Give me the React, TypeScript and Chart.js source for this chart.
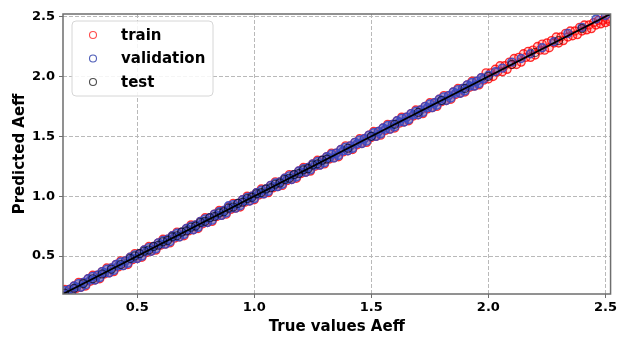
import React, { useEffect, useRef } from "react";
import { Chart, registerables } from "chart.js";

Chart.register(...registerables);

const AXIS_MIN = 0.183;
const AXIS_MAX = 2.522;
const TICKS = [0.5, 1.0, 1.5, 2.0, 2.5];
const X_TITLE = "True values Aeff";
const Y_TITLE = "Predicted Aeff";
const LEGEND_LABELS = ["train", "validation", "test"];

const trainX = [
  0.19, 0.20, 0.21, 0.22, 0.23, 0.24, 0.25, 0.26, 0.27, 0.28, 0.29, 0.30, 0.31, 0.32, 0.33, 0.34, 0.35, 0.36,
  0.37, 0.38, 0.39, 0.40, 0.41, 0.42, 0.43, 0.44, 0.45, 0.46, 0.47, 0.48, 0.49, 0.50, 0.51, 0.52, 0.53, 0.54,
  0.55, 0.56, 0.57, 0.58, 0.59, 0.60, 0.61, 0.62, 0.63, 0.64, 0.65, 0.66, 0.67, 0.68, 0.69, 0.70, 0.71, 0.72,
  0.73, 0.74, 0.75, 0.76, 0.77, 0.78, 0.79, 0.80, 0.81, 0.82, 0.83, 0.84, 0.85, 0.86, 0.87, 0.88, 0.89, 0.90,
  0.91, 0.92, 0.93, 0.94, 0.95, 0.96, 0.97, 0.98, 0.99, 1.00, 1.01, 1.02, 1.03, 1.04, 1.05, 1.06, 1.07, 1.08,
  1.09, 1.10, 1.11, 1.12, 1.13, 1.14, 1.15, 1.16, 1.17, 1.18, 1.19, 1.20, 1.21, 1.22, 1.23, 1.24, 1.25, 1.26,
  1.27, 1.28, 1.29, 1.30, 1.31, 1.32, 1.33, 1.34, 1.35, 1.36, 1.37, 1.38, 1.39, 1.40, 1.41, 1.42, 1.43, 1.44,
  1.45, 1.46, 1.47, 1.48, 1.49, 1.50, 1.51, 1.52, 1.53, 1.54, 1.55, 1.56, 1.57, 1.58, 1.59, 1.60, 1.61, 1.62,
  1.63, 1.64, 1.65, 1.66, 1.67, 1.68, 1.69, 1.70, 1.71, 1.72, 1.73, 1.74, 1.75, 1.76, 1.77, 1.78, 1.79, 1.80,
  1.81, 1.82, 1.83, 1.84, 1.85, 1.86, 1.87, 1.88, 1.89, 1.90, 1.91, 1.92, 1.93, 1.94, 1.95, 1.96, 1.97, 1.98,
  1.99, 2.00, 2.01, 2.02, 2.03, 2.04, 2.05, 2.06, 2.07, 2.08, 2.09, 2.10, 2.11, 2.12, 2.13, 2.14, 2.15, 2.16,
  2.17, 2.18, 2.19, 2.20, 2.21, 2.22, 2.23, 2.24, 2.25, 2.26, 2.27, 2.28, 2.29, 2.30, 2.31, 2.32, 2.33, 2.34,
  2.35, 2.36, 2.37, 2.38, 2.39, 2.40, 2.41, 2.42, 2.43, 2.44, 2.45, 2.46, 2.47, 2.48, 2.49, 2.50, 2.51, 2.52,
];
const trainY = [
  0.22, 0.18, 0.22, 0.19, 0.25, 0.23, 0.28, 0.24, 0.28, 0.25, 0.31, 0.29, 0.34, 0.30, 0.34, 0.31, 0.37, 0.35,
  0.40, 0.36, 0.40, 0.37, 0.43, 0.41, 0.46, 0.42, 0.46, 0.43, 0.49, 0.47, 0.52, 0.48, 0.52, 0.49, 0.55, 0.53,
  0.58, 0.54, 0.58, 0.55, 0.61, 0.59, 0.64, 0.60, 0.64, 0.61, 0.67, 0.65, 0.70, 0.66, 0.70, 0.67, 0.73, 0.71,
  0.76, 0.72, 0.76, 0.73, 0.79, 0.77, 0.82, 0.78, 0.82, 0.79, 0.85, 0.83, 0.88, 0.84, 0.88, 0.85, 0.91, 0.89,
  0.94, 0.90, 0.94, 0.91, 0.97, 0.95, 1.00, 0.96, 1.00, 0.97, 1.03, 1.01, 1.06, 1.02, 1.06, 1.03, 1.09, 1.07,
  1.12, 1.08, 1.12, 1.09, 1.15, 1.13, 1.18, 1.14, 1.18, 1.15, 1.21, 1.19, 1.24, 1.20, 1.24, 1.21, 1.27, 1.25,
  1.30, 1.26, 1.30, 1.27, 1.33, 1.31, 1.36, 1.32, 1.36, 1.33, 1.39, 1.37, 1.42, 1.38, 1.42, 1.39, 1.45, 1.43,
  1.48, 1.44, 1.48, 1.45, 1.51, 1.49, 1.54, 1.50, 1.54, 1.51, 1.57, 1.55, 1.60, 1.56, 1.60, 1.57, 1.63, 1.61,
  1.66, 1.62, 1.66, 1.63, 1.69, 1.67, 1.72, 1.68, 1.72, 1.69, 1.75, 1.73, 1.78, 1.74, 1.78, 1.75, 1.81, 1.79,
  1.84, 1.80, 1.84, 1.81, 1.87, 1.85, 1.90, 1.86, 1.90, 1.87, 1.93, 1.91, 1.96, 1.92, 1.96, 1.93, 1.99, 1.97,
  2.03, 1.98, 2.03, 2.00, 2.06, 2.04, 2.09, 2.04, 2.09, 2.06, 2.12, 2.10, 2.15, 2.10, 2.16, 2.12, 2.19, 2.16,
  2.21, 2.16, 2.22, 2.18, 2.25, 2.22, 2.27, 2.22, 2.28, 2.24, 2.30, 2.28, 2.33, 2.28, 2.33, 2.30, 2.36, 2.33,
  2.38, 2.34, 2.38, 2.35, 2.41, 2.38, 2.43, 2.39, 2.43, 2.40, 2.45, 2.43, 2.47, 2.44, 2.47, 2.45, 2.48, 2.46,
];

const valX = [
  0.19, 0.20, 0.21, 0.22, 0.23, 0.24, 0.25, 0.26, 0.27, 0.28, 0.29, 0.30, 0.31, 0.32, 0.33, 0.34, 0.35, 0.36,
  0.37, 0.38, 0.39, 0.40, 0.41, 0.42, 0.43, 0.44, 0.45, 0.46, 0.47, 0.48, 0.49, 0.50, 0.51, 0.52, 0.53, 0.54,
  0.55, 0.56, 0.57, 0.58, 0.59, 0.60, 0.61, 0.62, 0.63, 0.64, 0.65, 0.66, 0.67, 0.68, 0.69, 0.70, 0.71, 0.72,
  0.73, 0.74, 0.75, 0.76, 0.77, 0.78, 0.79, 0.80, 0.81, 0.82, 0.83, 0.84, 0.85, 0.86, 0.87, 0.88, 0.89, 0.90,
  0.91, 0.92, 0.93, 0.94, 0.95, 0.96, 0.97, 0.98, 0.99, 1.00, 1.01, 1.02, 1.03, 1.04, 1.05, 1.06, 1.07, 1.08,
  1.09, 1.10, 1.11, 1.12, 1.13, 1.14, 1.15, 1.16, 1.17, 1.18, 1.19, 1.20, 1.21, 1.22, 1.23, 1.24, 1.25, 1.26,
  1.27, 1.28, 1.29, 1.30, 1.31, 1.32, 1.33, 1.34, 1.35, 1.36, 1.37, 1.38, 1.39, 1.40, 1.41, 1.42, 1.43, 1.44,
  1.45, 1.46, 1.47, 1.48, 1.49, 1.50, 1.51, 1.52, 1.53, 1.54, 1.55, 1.56, 1.57, 1.58, 1.59, 1.60, 1.61, 1.62,
  1.63, 1.64, 1.65, 1.66, 1.67, 1.68, 1.69, 1.70, 1.71, 1.72, 1.73, 1.74, 1.75, 1.76, 1.77, 1.78, 1.79, 1.80,
  1.81, 1.82, 1.83, 1.84, 1.85, 1.86, 1.87, 1.88, 1.89, 1.90, 1.91, 1.92, 1.93, 1.94, 1.95, 1.96, 1.97, 1.98,
  2.00, 2.03, 2.06, 2.10, 2.14, 2.18, 2.23, 2.28, 2.34, 2.40, 2.46, 2.50,
];
const valY = [
  0.21, 0.18, 0.22, 0.20, 0.25, 0.24, 0.27, 0.24, 0.28, 0.26, 0.31, 0.30, 0.33, 0.30, 0.34, 0.32, 0.37, 0.36,
  0.39, 0.36, 0.40, 0.38, 0.43, 0.42, 0.45, 0.42, 0.46, 0.44, 0.49, 0.48, 0.51, 0.48, 0.52, 0.50, 0.55, 0.54,
  0.57, 0.54, 0.58, 0.56, 0.61, 0.60, 0.63, 0.60, 0.64, 0.62, 0.67, 0.66, 0.69, 0.66, 0.70, 0.68, 0.73, 0.72,
  0.75, 0.72, 0.76, 0.74, 0.79, 0.78, 0.81, 0.78, 0.82, 0.80, 0.85, 0.84, 0.87, 0.84, 0.88, 0.86, 0.92, 0.90,
  0.93, 0.90, 0.94, 0.92, 0.97, 0.96, 0.99, 0.96, 1.00, 0.98, 1.03, 1.02, 1.05, 1.02, 1.06, 1.04, 1.09, 1.08,
  1.11, 1.08, 1.12, 1.10, 1.15, 1.14, 1.17, 1.14, 1.18, 1.16, 1.21, 1.20, 1.23, 1.20, 1.24, 1.22, 1.27, 1.26,
  1.29, 1.26, 1.30, 1.28, 1.33, 1.32, 1.35, 1.32, 1.36, 1.34, 1.39, 1.38, 1.41, 1.38, 1.42, 1.40, 1.45, 1.44,
  1.47, 1.44, 1.48, 1.46, 1.51, 1.50, 1.53, 1.50, 1.54, 1.52, 1.57, 1.56, 1.59, 1.56, 1.60, 1.58, 1.63, 1.62,
  1.65, 1.62, 1.66, 1.64, 1.69, 1.68, 1.71, 1.68, 1.72, 1.70, 1.75, 1.74, 1.77, 1.74, 1.78, 1.76, 1.81, 1.80,
  1.83, 1.80, 1.84, 1.82, 1.87, 1.86, 1.89, 1.86, 1.90, 1.88, 1.93, 1.92, 1.95, 1.92, 1.96, 1.94, 1.99, 1.98,
  2.01, 2.04, 2.07, 2.12, 2.15, 2.19, 2.24, 2.29, 2.36, 2.41, 2.48, 2.51,
];

const testX = [
  0.19, 0.23, 0.27, 0.31, 0.35, 0.39, 0.43, 0.47, 0.49, 0.51, 0.53, 0.55, 0.57, 0.59, 0.61, 0.63, 0.65, 0.67,
  0.69, 0.71, 0.73, 0.75, 0.77, 0.79, 0.81, 0.83, 0.85, 0.87, 0.89, 0.91, 0.93, 0.95, 0.97, 0.99, 1.01, 1.03,
  1.05, 1.07, 1.09, 1.11, 1.13, 1.15, 1.17, 1.19, 1.21, 1.23, 1.25, 1.27, 1.29, 1.31, 1.40, 1.50, 1.60, 1.70,
  1.80, 1.90, 2.00, 2.10, 2.20, 2.30, 2.40,
];
const testY = [
  0.19, 0.23, 0.27, 0.31, 0.35, 0.39, 0.43, 0.48, 0.50, 0.52, 0.54, 0.55, 0.58, 0.59, 0.62, 0.63, 0.66, 0.67,
  0.70, 0.71, 0.74, 0.75, 0.78, 0.79, 0.82, 0.83, 0.86, 0.87, 0.90, 0.91, 0.94, 0.95, 0.98, 0.99, 1.02, 1.03,
  1.06, 1.07, 1.10, 1.11, 1.14, 1.15, 1.18, 1.19, 1.22, 1.23, 1.26, 1.27, 1.30, 1.31, 1.40, 1.50, 1.60, 1.70,
  1.80, 1.90, 2.00, 2.10, 2.20, 2.30, 2.40,
];

const lineX = [0.18, 2.53];

const RED = "rgba(255,0,0,0.8)";
const RED_FILL = "rgba(255,40,40,0.22)";
const BLUE = "rgba(50,70,195,0.85)";
const BLUE_FILL = "rgba(65,85,195,0.5)";
const BLACK = "rgba(0,0,0,0.6)";
const LEGEND_RED = "rgba(255,0,0,0.7)";
const LEGEND_BLUE = "rgba(20,40,160,0.75)";
const LEGEND_BLACK = "rgba(0,0,0,0.7)";
const FONT = "'DejaVu Sans', sans-serif";

const pts = (xs: number[], ys: number[]) => xs.map((x, i) => ({ x, y: ys[i] }));

export default function App() {
  const ref = useRef<HTMLCanvasElement | null>(null);

  useEffect(() => {
    document.body.style.margin = "0";
    const canvas = ref.current;
    if (!canvas) return;

    const frame = {
      id: "frame",
      afterDatasetsDraw(chart: any) {
        const { ctx, chartArea: a } = chart;
        ctx.save();
        ctx.strokeStyle = "#6e6e6e";
        ctx.lineWidth = 1.5;
        ctx.strokeRect(a.left, a.top, a.right - a.left, a.bottom - a.top);
        ctx.restore();
      },
      afterDraw(chart: any) {
        const { ctx } = chart;
        ctx.save();
        const bx = 72, by = 21, bw = 141, bh = 75, r = 4;
        ctx.beginPath();
        ctx.moveTo(bx + r, by);
        ctx.arcTo(bx + bw, by, bx + bw, by + bh, r);
        ctx.arcTo(bx + bw, by + bh, bx, by + bh, r);
        ctx.arcTo(bx, by + bh, bx, by, r);
        ctx.arcTo(bx, by, bx + bw, by, r);
        ctx.closePath();
        ctx.fillStyle = "rgba(255,255,255,0.85)";
        ctx.fill();
        ctx.strokeStyle = "#d6d6d6";
        ctx.lineWidth = 1;
        ctx.stroke();
        const colors = [LEGEND_RED, LEGEND_BLUE, LEGEND_BLACK];
        const rows = [35, 58.5, 82];
        ctx.font = `bold 15px ${FONT}`;
        ctx.textBaseline = "middle";
        LEGEND_LABELS.forEach((t, i) => {
          ctx.beginPath();
          ctx.arc(93, rows[i], 3.5, 0, Math.PI * 2);
          ctx.strokeStyle = colors[i];
          ctx.lineWidth = 1.1;
          ctx.stroke();
          ctx.fillStyle = "#000";
          ctx.fillText(t, 121, rows[i] + 1);
        });
        ctx.restore();
      },
    };

    const scaleCommon = (title: string, isX: boolean) => ({
      type: "linear" as const,
      min: AXIS_MIN,
      max: AXIS_MAX,
      afterBuildTicks: (s: any) => {
        s.ticks = TICKS.map((v) => ({ value: v }));
      },
      afterFit: (s: any) => {
        if (isX) s.height = 44;
        else s.width = 63;
      },
      ticks: {
        color: "#000",
        font: { family: FONT, size: 13, weight: "bold" as const },
        padding: isX ? 2 : 4,
        callback: (v: any) => Number(v).toFixed(1),
        maxRotation: 0,
        autoSkip: false,
      },
      grid: {
        color: "#b9b9b9",
        lineWidth: 1,
        drawTicks: true,
        tickLength: 4,
        tickColor: "#6e6e6e",
        tickBorderDash: [],
        tickWidth: 1,
      },
      border: { display: false, dash: [4, 2] },
      title: {
        display: true,
        text: title,
        color: "#000",
        font: { family: FONT, size: 15, weight: "bold" as const },
        padding: isX ? { top: 0, bottom: 2 } : { top: 11, bottom: 0 },
      },
    });

    const marker = (color: string, fill: string, w: number) => ({
      borderColor: color,
      backgroundColor: fill,
      pointRadius: 4,
      borderWidth: w,
    });

    const chart = new Chart(canvas, {
      type: "scatter",
      data: {
        datasets: [
          {
            type: "line",
            label: "fit",
            data: pts(lineX, lineX),
            borderColor: "#000",
            borderWidth: 1.8,
            pointRadius: 0,
            fill: false,
            order: 0,
          } as any,
          { label: LEGEND_LABELS[2], data: pts(testX, testY), ...marker(BLACK, "rgba(0,0,0,0)", 1.1), order: 1 },
          { label: LEGEND_LABELS[1], data: pts(valX, valY), ...marker(BLUE, BLUE_FILL, 1.4), order: 2 },
          { label: LEGEND_LABELS[0], data: pts(trainX, trainY), ...marker(RED, RED_FILL, 1.4), order: 3 },
        ],
      },
      options: {
        animation: false,
        responsive: false,
        maintainAspectRatio: false,
        layout: { padding: { left: 0, right: 7, top: 14, bottom: 0 } },
        plugins: { legend: { display: false }, tooltip: { enabled: false } },
        scales: {
          x: scaleCommon(X_TITLE, true),
          y: scaleCommon(Y_TITLE, false),
        },
      },
      plugins: [frame],
    });
    return () => chart.destroy();
  }, []);

  return (
    <div style={{ width: 619, height: 338, background: "#fff" }}>
      <canvas ref={ref} width={619} height={338} style={{ display: "block" }} />
    </div>
  );
}
